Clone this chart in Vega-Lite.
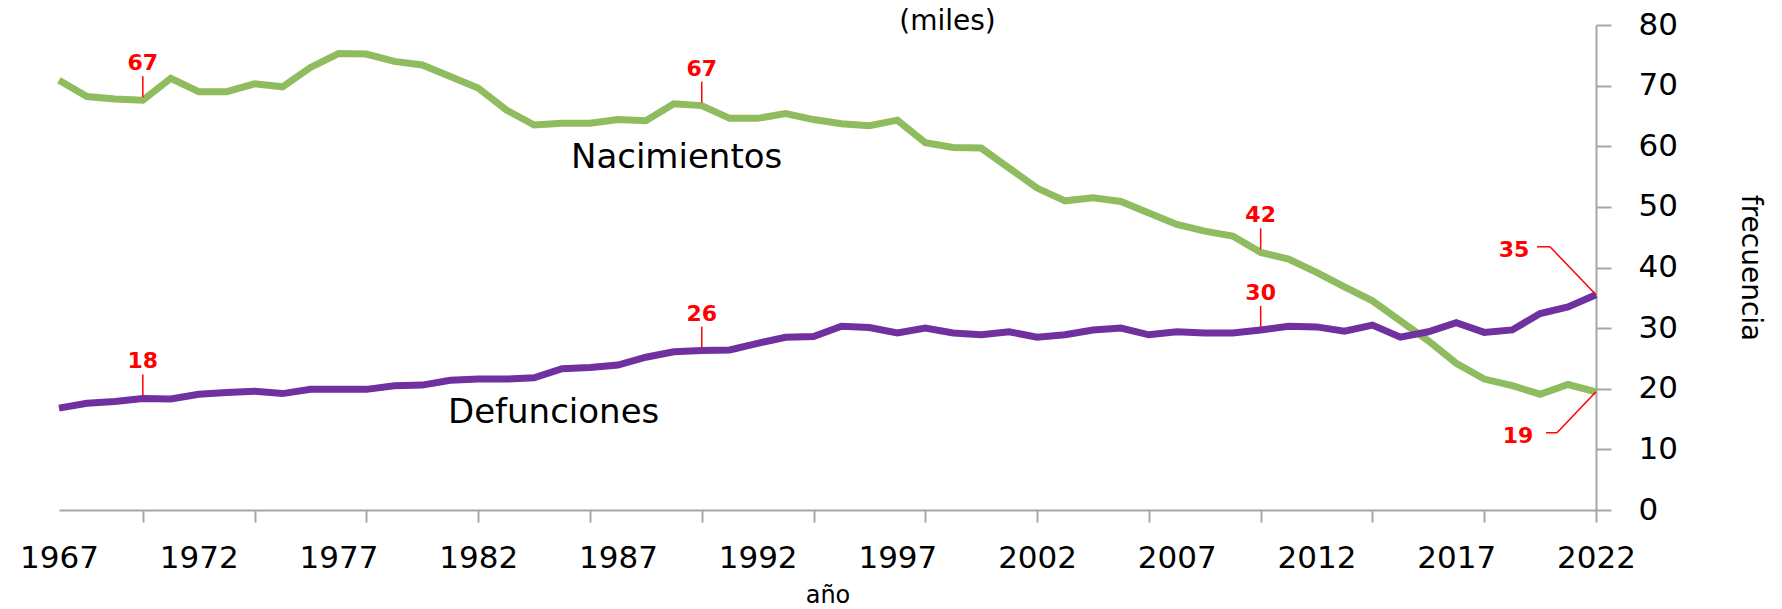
{
  "$schema": "https://vega.github.io/schema/vega-lite/v6.json",
  "width": 1537,
  "height": 485,
  "autosize": {"type": "none"},
  "padding": {"left": 59, "top": 25, "right": 186, "bottom": 99},
  "background": "white",
  "config": {"view": {"stroke": null}, "font": "DejaVu Sans"},
  "title": {"text": "(miles)", "font": "DejaVu Sans", "fontSize": 28, "fontWeight": "normal", "color": "#000000", "anchor": "middle", "frame": "group", "dx": 120, "dy": 27, "offset": 0},
  "datasets": {
    "series": [
      {"year": 1967, "serie": "Nacimientos", "value": 70.9}, {"year": 1968, "serie": "Nacimientos", "value": 68.2},
      {"year": 1969, "serie": "Nacimientos", "value": 67.8}, {"year": 1970, "serie": "Nacimientos", "value": 67.6},
      {"year": 1971, "serie": "Nacimientos", "value": 71.2}, {"year": 1972, "serie": "Nacimientos", "value": 69.0},
      {"year": 1973, "serie": "Nacimientos", "value": 69.0}, {"year": 1974, "serie": "Nacimientos", "value": 70.3},
      {"year": 1975, "serie": "Nacimientos", "value": 69.8}, {"year": 1976, "serie": "Nacimientos", "value": 73.0},
      {"year": 1977, "serie": "Nacimientos", "value": 75.3}, {"year": 1978, "serie": "Nacimientos", "value": 75.2},
      {"year": 1979, "serie": "Nacimientos", "value": 74.0}, {"year": 1980, "serie": "Nacimientos", "value": 73.4},
      {"year": 1981, "serie": "Nacimientos", "value": 71.5}, {"year": 1982, "serie": "Nacimientos", "value": 69.6},
      {"year": 1983, "serie": "Nacimientos", "value": 66.0}, {"year": 1984, "serie": "Nacimientos", "value": 63.5},
      {"year": 1985, "serie": "Nacimientos", "value": 63.8}, {"year": 1986, "serie": "Nacimientos", "value": 63.8},
      {"year": 1987, "serie": "Nacimientos", "value": 64.4}, {"year": 1988, "serie": "Nacimientos", "value": 64.2},
      {"year": 1989, "serie": "Nacimientos", "value": 67.0}, {"year": 1990, "serie": "Nacimientos", "value": 66.7},
      {"year": 1991, "serie": "Nacimientos", "value": 64.6}, {"year": 1992, "serie": "Nacimientos", "value": 64.6},
      {"year": 1993, "serie": "Nacimientos", "value": 65.4}, {"year": 1994, "serie": "Nacimientos", "value": 64.4},
      {"year": 1995, "serie": "Nacimientos", "value": 63.7}, {"year": 1996, "serie": "Nacimientos", "value": 63.4},
      {"year": 1997, "serie": "Nacimientos", "value": 64.3}, {"year": 1998, "serie": "Nacimientos", "value": 60.6},
      {"year": 1999, "serie": "Nacimientos", "value": 59.8}, {"year": 2000, "serie": "Nacimientos", "value": 59.7},
      {"year": 2001, "serie": "Nacimientos", "value": 56.4}, {"year": 2002, "serie": "Nacimientos", "value": 53.1},
      {"year": 2003, "serie": "Nacimientos", "value": 51.0}, {"year": 2004, "serie": "Nacimientos", "value": 51.5},
      {"year": 2005, "serie": "Nacimientos", "value": 50.9}, {"year": 2006, "serie": "Nacimientos", "value": 49.0},
      {"year": 2007, "serie": "Nacimientos", "value": 47.1}, {"year": 2008, "serie": "Nacimientos", "value": 46.0},
      {"year": 2009, "serie": "Nacimientos", "value": 45.2}, {"year": 2010, "serie": "Nacimientos", "value": 42.5},
      {"year": 2011, "serie": "Nacimientos", "value": 41.4}, {"year": 2012, "serie": "Nacimientos", "value": 39.2},
      {"year": 2013, "serie": "Nacimientos", "value": 36.8}, {"year": 2014, "serie": "Nacimientos", "value": 34.5},
      {"year": 2015, "serie": "Nacimientos", "value": 31.2}, {"year": 2016, "serie": "Nacimientos", "value": 27.9},
      {"year": 2017, "serie": "Nacimientos", "value": 24.2}, {"year": 2018, "serie": "Nacimientos", "value": 21.6},
      {"year": 2019, "serie": "Nacimientos", "value": 20.5}, {"year": 2020, "serie": "Nacimientos", "value": 19.1},
      {"year": 2021, "serie": "Nacimientos", "value": 20.7}, {"year": 2022, "serie": "Nacimientos", "value": 19.5},
      {"year": 1967, "serie": "Defunciones", "value": 16.8}, {"year": 1968, "serie": "Defunciones", "value": 17.6},
      {"year": 1969, "serie": "Defunciones", "value": 17.9}, {"year": 1970, "serie": "Defunciones", "value": 18.4},
      {"year": 1971, "serie": "Defunciones", "value": 18.3}, {"year": 1972, "serie": "Defunciones", "value": 19.1},
      {"year": 1973, "serie": "Defunciones", "value": 19.4}, {"year": 1974, "serie": "Defunciones", "value": 19.6},
      {"year": 1975, "serie": "Defunciones", "value": 19.2}, {"year": 1976, "serie": "Defunciones", "value": 19.9},
      {"year": 1977, "serie": "Defunciones", "value": 19.9}, {"year": 1978, "serie": "Defunciones", "value": 19.9},
      {"year": 1979, "serie": "Defunciones", "value": 20.5}, {"year": 1980, "serie": "Defunciones", "value": 20.6},
      {"year": 1981, "serie": "Defunciones", "value": 21.4}, {"year": 1982, "serie": "Defunciones", "value": 21.6},
      {"year": 1983, "serie": "Defunciones", "value": 21.6}, {"year": 1984, "serie": "Defunciones", "value": 21.8},
      {"year": 1985, "serie": "Defunciones", "value": 23.3}, {"year": 1986, "serie": "Defunciones", "value": 23.5},
      {"year": 1987, "serie": "Defunciones", "value": 23.9}, {"year": 1988, "serie": "Defunciones", "value": 25.2},
      {"year": 1989, "serie": "Defunciones", "value": 26.1}, {"year": 1990, "serie": "Defunciones", "value": 26.3},
      {"year": 1991, "serie": "Defunciones", "value": 26.4}, {"year": 1992, "serie": "Defunciones", "value": 27.5},
      {"year": 1993, "serie": "Defunciones", "value": 28.5}, {"year": 1994, "serie": "Defunciones", "value": 28.6},
      {"year": 1995, "serie": "Defunciones", "value": 30.3}, {"year": 1996, "serie": "Defunciones", "value": 30.1},
      {"year": 1997, "serie": "Defunciones", "value": 29.2}, {"year": 1998, "serie": "Defunciones", "value": 30.0},
      {"year": 1999, "serie": "Defunciones", "value": 29.2}, {"year": 2000, "serie": "Defunciones", "value": 28.9},
      {"year": 2001, "serie": "Defunciones", "value": 29.4}, {"year": 2002, "serie": "Defunciones", "value": 28.5},
      {"year": 2003, "serie": "Defunciones", "value": 28.9}, {"year": 2004, "serie": "Defunciones", "value": 29.7},
      {"year": 2005, "serie": "Defunciones", "value": 30.0}, {"year": 2006, "serie": "Defunciones", "value": 28.9},
      {"year": 2007, "serie": "Defunciones", "value": 29.4}, {"year": 2008, "serie": "Defunciones", "value": 29.2},
      {"year": 2009, "serie": "Defunciones", "value": 29.2}, {"year": 2010, "serie": "Defunciones", "value": 29.7},
      {"year": 2011, "serie": "Defunciones", "value": 30.3}, {"year": 2012, "serie": "Defunciones", "value": 30.2},
      {"year": 2013, "serie": "Defunciones", "value": 29.5}, {"year": 2014, "serie": "Defunciones", "value": 30.5},
      {"year": 2015, "serie": "Defunciones", "value": 28.5}, {"year": 2016, "serie": "Defunciones", "value": 29.4},
      {"year": 2017, "serie": "Defunciones", "value": 30.9}, {"year": 2018, "serie": "Defunciones", "value": 29.3},
      {"year": 2019, "serie": "Defunciones", "value": 29.7}, {"year": 2020, "serie": "Defunciones", "value": 32.4},
      {"year": 2021, "serie": "Defunciones", "value": 33.5}, {"year": 2022, "serie": "Defunciones", "value": 35.5}
    ],
    "names": [
      {"year": 1989.1, "value": 56.4, "name": "Nacimientos"},
      {"year": 1984.7, "value": 14.4, "name": "Defunciones"}
    ],
    "notes": [
      {"year": 1970, "value": 67.6, "label": "67"},
      {"year": 1990, "value": 66.7, "label": "67"},
      {"year": 2010, "value": 42.5, "label": "42"},
      {"year": 1970, "value": 18.4, "label": "18"},
      {"year": 1990, "value": 26.3, "label": "26"},
      {"year": 2010, "value": 29.7, "label": "30"}
    ],
    "ends": [
      {"year": 2022, "value": 35.5, "label": "35", "side": "up"},
      {"year": 2022, "value": 19.5, "label": "19", "side": "down"}
    ]
  },
  "encoding": {
    "x": {
      "field": "year", "type": "quantitative",
      "scale": {"domain": [1967, 2022], "nice": false, "zero": false},
      "axis": {
        "title": "año", "titleFont": "DejaVu Sans", "titleFontSize": 24, "titleFontWeight": "normal", "titleColor": "#000000", "titlePadding": 10,
        "values": [1967, 1970, 1972, 1974, 1977, 1978, 1982, 1986, 1987, 1990, 1992, 1994, 1997, 1998, 2002, 2006, 2007, 2010, 2012, 2014, 2017, 2018, 2022],
        "format": "d",
        "labelExpr": "(datum.value - 1967) % 5 == 0 ? datum.label : ''",
        "labelFont": "DejaVu Sans", "labelFontSize": 31, "labelColor": "#000000", "labelPadding": 21, "labelBaseline": "top",
        "labelOverlap": false, "labelFlush": false,
        "tickSize": 12, "tickWidth": 2, "tickColor": "#A6A6A6",
        "tickOpacity": {"condition": {"test": "datum.value % 4 == 2", "value": 1}, "value": 0},
        "domainColor": "#A6A6A6", "domainWidth": 2, "grid": false
      }
    },
    "y": {
      "field": "value", "type": "quantitative",
      "scale": {"domain": [0, 80], "nice": false, "zero": true},
      "axis": {
        "orient": "right", "title": "frecuencia", "titleFont": "DejaVu Sans", "titleFontSize": 28, "titleFontWeight": "normal", "titleColor": "#000000", "titleAngle": 90, "titlePadding": 58,
        "values": [0, 10, 20, 30, 40, 50, 60, 70, 80],
        "labelFont": "DejaVu Sans", "labelFontSize": 31, "labelColor": "#000000", "labelPadding": 27, "labelAlign": "left",
        "tickSize": 15, "tickWidth": 2, "tickColor": "#A6A6A6",
        "domainColor": "#A6A6A6", "domainWidth": 2, "grid": false
      }
    }
  },
  "layer": [
    {
      "data": {"name": "series"},
      "mark": {"type": "line", "strokeWidth": 7},
      "encoding": {
        "color": {"field": "serie", "type": "nominal", "scale": {"domain": ["Nacimientos", "Defunciones"], "range": ["#8FBC5F", "#7030A0"]}, "legend": null}
      }
    },
    {
      "data": {"name": "names"},
      "mark": {"type": "text", "font": "DejaVu Sans", "fontSize": 34, "color": "#000000", "align": "center", "baseline": "alphabetic"},
      "encoding": {"text": {"field": "name"}}
    },
    {
      "data": {"name": "notes"},
      "mark": {"type": "rule", "color": "#FF0000", "strokeWidth": 1.5, "yOffset": -3, "y2Offset": -24},
      "encoding": {"y2": {"field": "value"}}
    },
    {
      "data": {"name": "notes"},
      "mark": {"type": "text", "font": "DejaVu Sans", "fontSize": 22, "fontWeight": "bold", "color": "#FF0000", "align": "center", "baseline": "middle", "dy": -37},
      "encoding": {"text": {"field": "label"}}
    },
    {
      "data": {"name": "ends"},
      "transform": [{"filter": "datum.side == 'up'"}],
      "mark": {"type": "rule", "color": "#FF0000", "strokeWidth": 1.5, "x2Offset": -46, "y2Offset": -48},
      "encoding": {"x2": {"field": "year"}, "y2": {"field": "value"}}
    },
    {
      "data": {"name": "ends"},
      "transform": [{"filter": "datum.side == 'up'"}],
      "mark": {"type": "rule", "color": "#FF0000", "strokeWidth": 1.5, "xOffset": -46, "x2Offset": -59, "yOffset": -48, "y2Offset": -48},
      "encoding": {"x2": {"field": "year"}, "y2": {"field": "value"}}
    },
    {
      "data": {"name": "ends"},
      "transform": [{"filter": "datum.side == 'up'"}],
      "mark": {"type": "text", "font": "DejaVu Sans", "fontSize": 22, "fontWeight": "bold", "color": "#FF0000", "align": "center", "baseline": "middle", "dx": -82, "dy": -45},
      "encoding": {"text": {"field": "label"}}
    },
    {
      "data": {"name": "ends"},
      "transform": [{"filter": "datum.side == 'down'"}],
      "mark": {"type": "rule", "color": "#FF0000", "strokeWidth": 1.5, "x2Offset": -39, "y2Offset": 41},
      "encoding": {"x2": {"field": "year"}, "y2": {"field": "value"}}
    },
    {
      "data": {"name": "ends"},
      "transform": [{"filter": "datum.side == 'down'"}],
      "mark": {"type": "rule", "color": "#FF0000", "strokeWidth": 1.5, "xOffset": -39, "x2Offset": -50, "yOffset": 41, "y2Offset": 41},
      "encoding": {"x2": {"field": "year"}, "y2": {"field": "value"}}
    },
    {
      "data": {"name": "ends"},
      "transform": [{"filter": "datum.side == 'down'"}],
      "mark": {"type": "text", "font": "DejaVu Sans", "fontSize": 22, "fontWeight": "bold", "color": "#FF0000", "align": "center", "baseline": "middle", "dx": -78, "dy": 44},
      "encoding": {"text": {"field": "label"}}
    }
  ]
}
